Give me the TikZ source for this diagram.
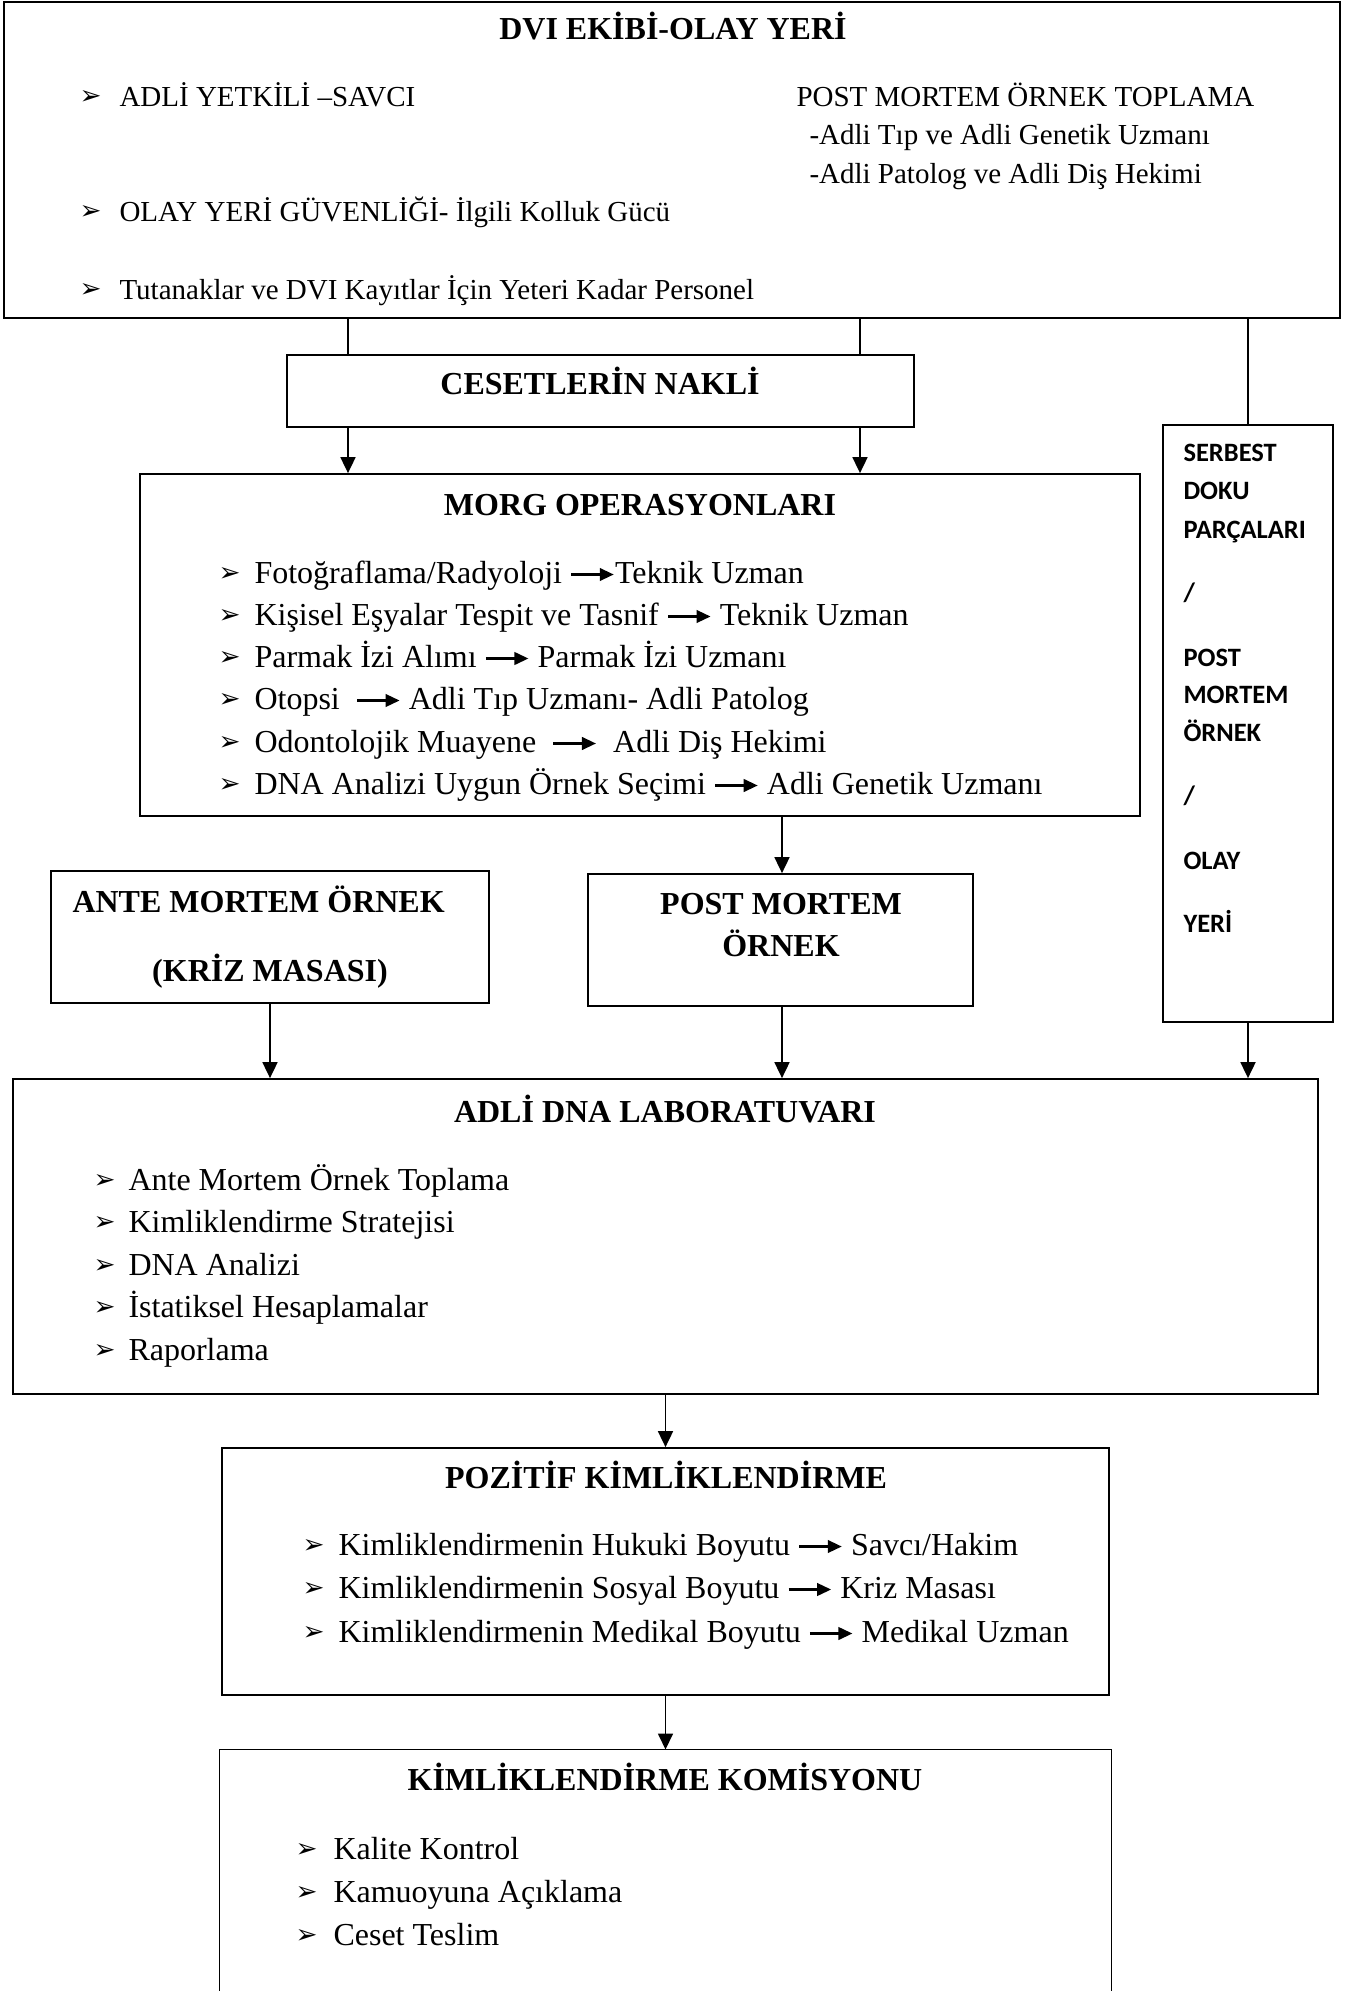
\documentclass[tikz,border=0pt]{standalone}
\usepackage{fontspec}
\setmainfont{Liberation Serif}
\newfontfamily\calfont{Carlito}
\newfontfamily\symfont{DejaVu Sans}
\usetikzlibrary{arrows.meta,fit,positioning}
\newcommand{\ustyazi}{\fontsize{11.6pt}{14pt}\selectfont}
\newcommand{\govde}{\fontsize{12.8pt}{15pt}\selectfont}
\newcommand{\yanyazi}{\calfont\bfseries\fontsize{10.6pt}{12pt}\selectfont}
\newcommand{\isaret}[1][14.4pt]{\makebox[#1][l]{\raisebox{0.8pt}{\symfont\fontsize{10.5pt}{10pt}\selectfont ➢}}}
\newcommand{\ok}{\tikz[baseline=-3.4pt]\draw[line width=1pt,-{Triangle[length=5.6pt,width=5pt]}] (0,0) -- (17pt,0);}

\begin{document}
\begin{tikzpicture}[x=0.4pt,y=-0.4pt,
  kutu/.style={draw, line width=0.7pt, inner sep=0pt},
  baslik/.style={anchor=base, font=\bfseries\govde, inner sep=0pt},
  madde/.style={anchor=base west, font=\govde, inner sep=0pt},
  ustmadde/.style={anchor=base west, font=\ustyazi, inner sep=0pt},
  yan/.style={anchor=base west, font=\yanyazi, inner sep=0pt},
  duz/.style={line width=0.7pt},
  okcizgi/.style={line width=0.7pt, -{Triangle[length=6.4pt,width=6pt]}}]
  \useasboundingbox (0,0) rectangle (1346,1991);

  % kutular
  \node[kutu, fit={(4,2) (1340,318)}] (dvi) {};
  \node[kutu, fit={(287,355) (914,427)}] (nakil) {};
  \node[kutu, fit={(140,474) (1140,816)}] (morg) {};
  \node[kutu, fit={(1163,425) (1333,1022)}] (serbest) {};
  \node[kutu, fit={(51,871) (489,1003)}] (ante) {};
  \node[kutu, fit={(588,874) (973,1006)}] (post) {};
  \node[kutu, fit={(13,1079) (1318,1394)}] (dna) {};
  \node[kutu, fit={(222,1448) (1109,1695)}] (poz) {};
  \node[inner sep=0pt, fit={(220,1750) (1111,1991)}] (kom) {};
  \draw[duz] (kom.south west) -- (kom.north west) -- (kom.north east) -- (kom.south east);

  % DVI ekibi
  \path
  (673,40) node[baslik] (dvibaslik) {DVI EKİBİ-OLAY YERİ}
  (79,107) node[ustmadde] (savci) {\isaret[16pt]ADLİ YETKİLİ –SAVCI}
  (79,222) node[ustmadde] (guvenlik) {\isaret[16pt]OLAY YERİ GÜVENLİĞİ- İlgili Kolluk Gücü}
  (79,300) node[ustmadde] (tutanak) {\isaret[16pt]Tutanaklar ve DVI Kayıtlar İçin Yeteri Kadar Personel}
  (796,107) node[ustmadde] (toplama) {POST MORTEM ÖRNEK TOPLAMA}
  (809,145) node[ustmadde] (toplama1) {-Adli Tıp ve Adli Genetik Uzmanı}
  (809,184) node[ustmadde] (toplama2) {-Adli Patolog ve Adli Diş Hekimi}
  ;

  \path (600,395) node[baslik] (nakilbaslik) {CESETLERİN NAKLİ};

  % morg
  \path
  (640,515) node[baslik] (morgbaslik) {MORG OPERASYONLARI}
  (218,583) node[madde] (morg1) {\isaret Fotoğraflama/Radyoloji \ok Teknik Uzman}
  (218,625) node[madde] (morg2) {\isaret Kişisel Eşyalar Tespit ve Tasnif \ok{} Teknik Uzman}
  (218,667) node[madde] (morg3) {\isaret Parmak İzi Alımı \ok{} Parmak İzi Uzmanı}
  (218,709) node[madde] (morg4) {\isaret Otopsi \ \ok{} Adli Tıp Uzmanı- Adli Patolog}
  (218,752) node[madde] (morg5) {\isaret Odontolojik Muayene \ \ok\ \ Adli Diş Hekimi}
  (218,794) node[madde] (morg6) {\isaret DNA Analizi Uygun Örnek Seçimi \ok{} Adli Genetik Uzmanı}
  ;

  % serbest doku
  \path
  (1183,461) node[yan] (s1) {SERBEST}
  (1183,499) node[yan] (s2) {DOKU}
  (1183,538) node[yan] (s3) {PARÇALARI}
  (1183,601) node[yan] (s4) {/}
  (1183,666) node[yan] (s5) {POST}
  (1183,703) node[yan] (s6) {MORTEM}
  (1183,741) node[yan] (s7) {ÖRNEK}
  (1183,804) node[yan] (s8) {/}
  (1183,869) node[yan] (s9) {OLAY}
  (1183,932) node[yan] (s10) {YERİ}
  ;

  \path
  (72,912) node[baslik, anchor=base west] (ante1) {ANTE MORTEM ÖRNEK}
  (270,981) node[baslik] (ante2) {(KRİZ MASASI)}
  (781,914) node[baslik] (post1) {POST MORTEM}
  (781,956) node[baslik] (post2) {ÖRNEK}
  ;

  % dna lab
  \path
  (665,1122) node[baslik] (dnabaslik) {ADLİ DNA LABORATUVARI}
  (93,1190) node[madde] (dna1) {\isaret[14pt]Ante Mortem Örnek Toplama}
  (93,1232) node[madde] (dna2) {\isaret[14pt]Kimliklendirme Stratejisi}
  (93,1275) node[madde] (dna3) {\isaret[14pt]DNA Analizi}
  (93,1317) node[madde] (dna4) {\isaret[14pt]İstatiksel Hesaplamalar}
  (93,1360) node[madde] (dna5) {\isaret[14pt]Raporlama}
  ;

  \path
  (666,1488) node[baslik] (pozbaslik) {POZİTİF KİMLİKLENDİRME}
  (302,1555) node[madde] (poz1) {\isaret Kimliklendirmenin Hukuki Boyutu \ok{} Savcı/Hakim}
  (302,1598) node[madde] (poz2) {\isaret Kimliklendirmenin Sosyal Boyutu \ok{} Kriz Masası}
  (302,1642) node[madde] (poz3) {\isaret Kimliklendirmenin Medikal Boyutu \ok{} Medikal Uzman}
  ;

  \path
  (665,1790) node[baslik] (kombaslik) {KİMLİKLENDİRME KOMİSYONU}
  (295,1859) node[madde] (kom1) {\isaret[15.2pt]Kalite Kontrol}
  (295,1902) node[madde] (kom2) {\isaret[15.2pt]Kamuoyuna Açıklama}
  (295,1945) node[madde] (kom3) {\isaret[15.2pt]Ceset Teslim}
  ;

  % baglantilar
  \coordinate (nakilsol) at (348,0);
  \coordinate (nakilsag) at (860,0);
  \coordinate (postx) at (782,0);
  \draw[duz] (dvi.south -| nakilsol) -- (nakil.north -| nakilsol);
  \draw[duz] (dvi.south -| nakilsag) -- (nakil.north -| nakilsag);
  \draw[duz] (dvi.south -| serbest.north) -- (serbest.north);
  \draw[okcizgi] (nakil.south -| nakilsol) -- (morg.north -| nakilsol);
  \draw[okcizgi] (nakil.south -| nakilsag) -- (morg.north -| nakilsag);
  \draw[okcizgi] (morg.south -| postx) -- (post.north -| postx);
  \draw[okcizgi] (ante.south) -- (dna.north -| ante.south);
  \draw[okcizgi] (post.south -| postx) -- (dna.north -| postx);
  \draw[okcizgi] (serbest.south) -- (dna.north -| serbest.south);
  \draw[okcizgi] (dna.south) -- (poz.north);
  \draw[okcizgi] (poz.south) -- (kom.north);
\end{tikzpicture}
\end{document}
